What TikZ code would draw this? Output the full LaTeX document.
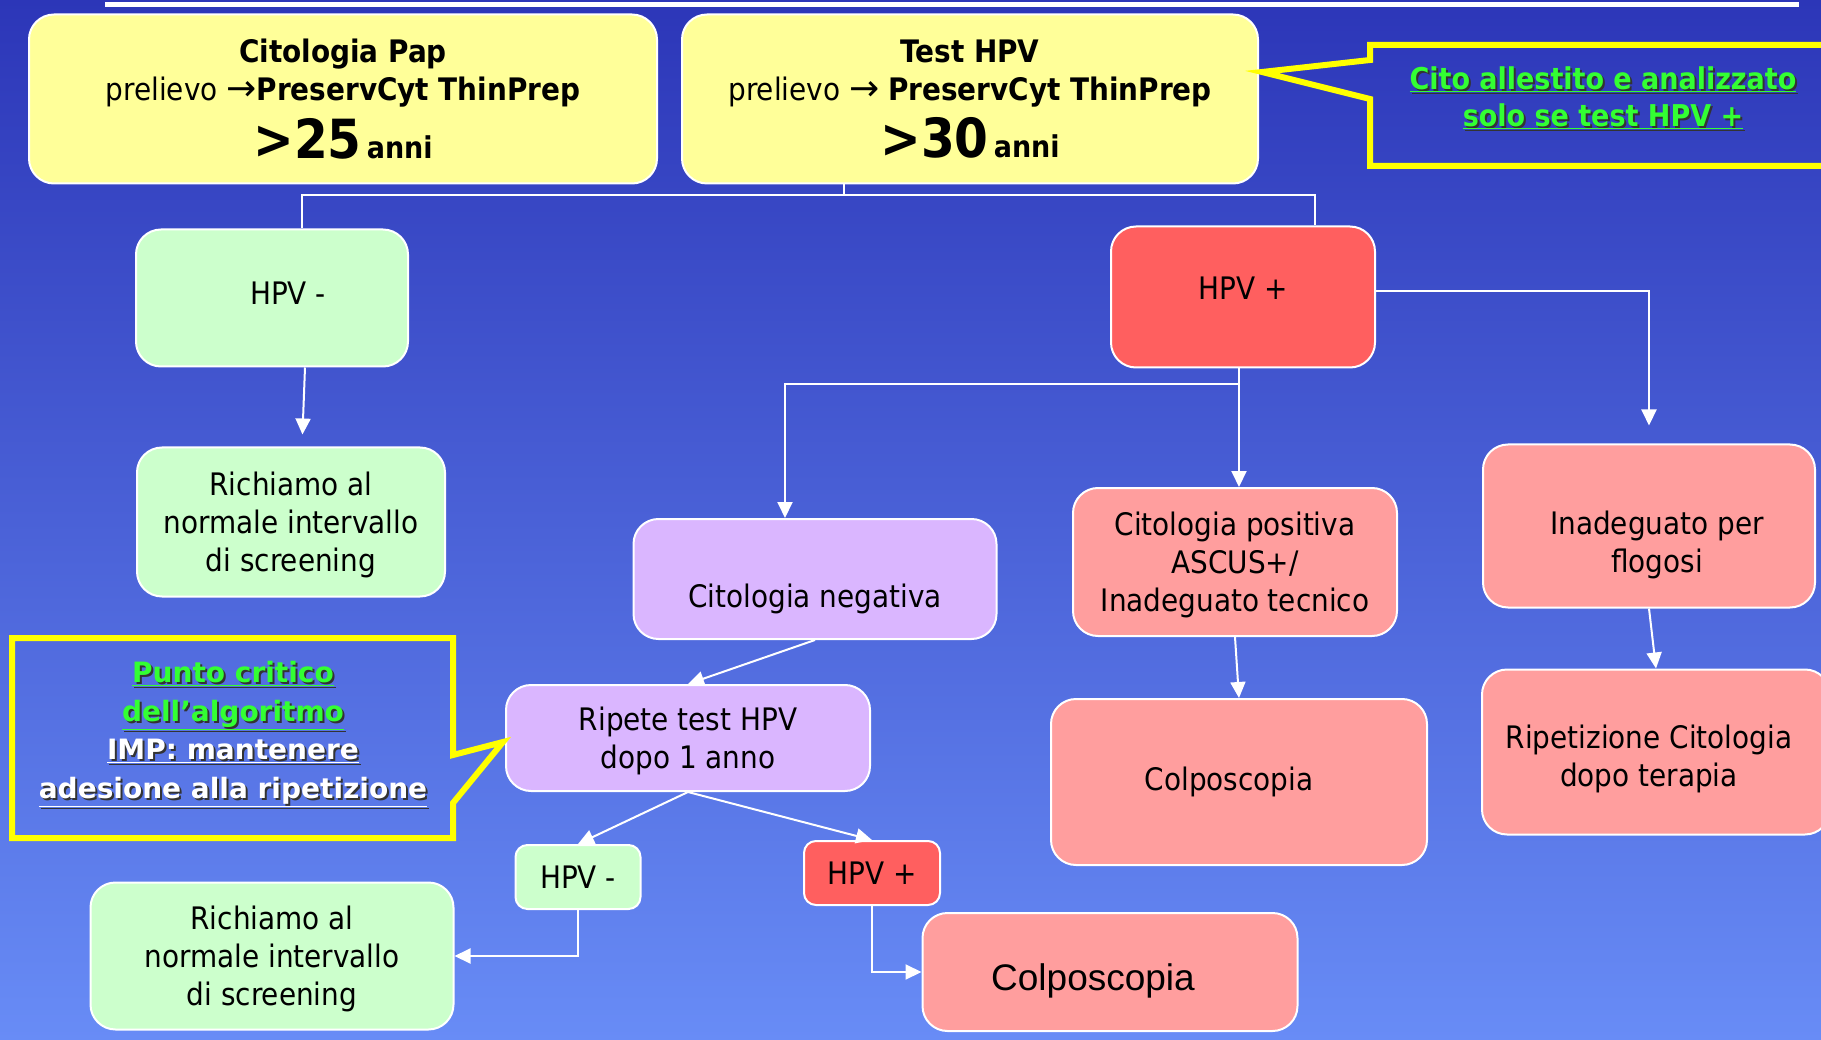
\documentclass[tikz,border=0pt]{standalone}
\usepackage{fontspec}
\setmainfont{DejaVu Sans Condensed}
\newfontfamily\verdanalike{DejaVu Sans}
\newfontfamily\arialfont{Liberation Sans}
\usetikzlibrary{arrows.meta,calc}

\definecolor{bgtop}{RGB}{44,54,184}
\definecolor{bgbottom}{RGB}{104,140,246}
\definecolor{yellowbox}{RGB}{255,255,153}
\definecolor{greenbox}{RGB}{204,255,204}
\definecolor{redbox}{RGB}{255,95,95}
\definecolor{pinkbox}{RGB}{255,158,158}
\definecolor{purplebox}{RGB}{218,182,255}
\definecolor{noteyellow}{RGB}{255,255,0}
\definecolor{notegreen}{RGB}{51,255,51}

\newcommand\shadowed[2]{\rlap{\kern2pt\raisebox{-2pt}{\color{black!80}\underline{#2}}}{\color{#1}\underline{#2}}}
\newcommand\bigarrow{{\verdanalike\fontsize{36}{38}\selectfont →}}

\tikzset{
  box/.style={draw=white, line width=2pt, rounded corners=25pt, align=center,
    text=black, inner sep=0pt, font=\fontsize{31}{38}\selectfont},
  smallbox/.style={box, rounded corners=12pt},
  conn/.style={draw=white, line width=2pt},
  arr/.style={conn, -{Triangle[length=16pt,width=15pt]}},
  callout/.style={draw=noteyellow, line width=6pt, line join=miter},
}

\begin{document}
\begin{tikzpicture}[x=1pt,y=-1pt]
  \useasboundingbox (0,0) rectangle (1821,1040);
  \clip (0,0) rectangle (1821,1040);
  \shade[top color=bgtop, bottom color=bgbottom] (0,0) rectangle (1821,1040);
  \draw[white, line width=5pt] (105,4.5) -- (1799,4.5);

  % screening entry points
  \node[box, fill=yellowbox, minimum width=628pt, minimum height=169pt] (pap) at (343,99)
    {\textbf{Citologia Pap}\\ prelievo \bigarrow\textbf{PreservCyt ThinPrep}\\[10pt]
     {\fontsize{54}{50}\selectfont\bfseries >25}\,{\fontsize{30}{38}\selectfont\bfseries anni}};
  \node[box, fill=yellowbox, minimum width=576pt, minimum height=169pt] (testhpv) at (970,99)
    {\textbf{Test HPV}\\ prelievo \bigarrow\ \textbf{PreservCyt ThinPrep}\\[10pt]
     {\fontsize{54}{50}\selectfont\bfseries >30}\,{\fontsize{30}{38}\selectfont\bfseries anni}};

  % first result
  \node[box, fill=greenbox, minimum width=272pt, minimum height=137pt, text depth=10pt] (hpvneg)
    at (272,298) {\kern32pt HPV -};
  \node[box, fill=greenbox, minimum width=308pt, minimum height=149pt, text depth=0pt] (richiamoA)
    at (291,522) {Richiamo al\\ normale intervallo\\ di screening};
  \node[box, fill=redbox, minimum width=264pt, minimum height=141pt, text depth=18pt] (hpvpos)
    at (1243,297) {HPV +};

  % cytology after HPV +
  \node[box, fill=purplebox, minimum width=363pt, minimum height=120pt, text height=64pt,
    text depth=7pt] (citneg) at (815,579) {Citologia negativa};
  \node[box, fill=pinkbox, minimum width=324pt, minimum height=148pt, text depth=0pt] (citpos)
    at (1235,562) {Citologia positiva\\ ASCUS+/\\ Inadeguato tecnico};
  \node[box, fill=pinkbox, minimum width=332pt, minimum height=163pt, text height=100pt,
    text depth=7pt] (inad) at (1649,526) {\kern16pt Inadeguato per\\ \kern16pt flogosi};
  \node[box, fill=pinkbox, minimum width=376pt, minimum height=166pt] (colpoA)
    at (1239,782) {\kern-20pt Colposcopia};
  \node[box, fill=pinkbox, minimum width=348pt, minimum height=165pt, text height=76pt,
    text depth=7pt] (ripet) at (1656,752) {\kern-14pt Ripetizione Citologia\\ \kern-14pt dopo terapia};

  % repeat after one year
  \node[box, fill=purplebox, minimum width=364pt, minimum height=106pt, text depth=0pt] (ripete)
    at (688,738) {Ripete test HPV\\ dopo 1 anno};
  \node[smallbox, fill=greenbox, minimum width=125pt, minimum height=64pt] (hpvnegB) at (578,877) {HPV -};
  \node[smallbox, fill=redbox, minimum width=136pt, minimum height=64pt] (hpvposB) at (872,873) {HPV +};
  \node[box, fill=greenbox, minimum width=363pt, minimum height=147pt, text depth=0pt] (richiamoB)
    at (272,956) {Richiamo al\\ normale intervallo\\ di screening};
  \node[box, fill=pinkbox, minimum width=375pt, minimum height=118pt, text height=45pt, text depth=8pt,
    font=\arialfont\fontsize{37}{44}\selectfont] (colpoB) at (1110,972) {\kern-34pt Colposcopia};

  % connectors
  \coordinate (fork) at (844,195);
  \draw[conn] (fork |- testhpv.south) -- (fork) -| ($(hpvneg.north)+(30,0)$);
  \draw[conn] (fork) -| ($(hpvpos.north)+(72,0)$);
  \draw[arr, shorten >=12pt] ($(hpvneg.south)+(33,0)$) -- ($(richiamoA.north)+(11,0)$);
  \draw[arr] ($(hpvpos.south)+(-4,0)$) -- ++(0,16) -| ($(citneg.north)+(-30,0)$);
  \draw[arr] ($(hpvpos.south)+(-4,0)$) -- ($(hpvpos.south |- citpos.north)+(-4,0)$);
  \draw[arr, shorten >=18pt] ($(hpvpos.east)+(0,-6)$) -| (inad.north);
  \draw[arr] (citneg.south) -- (ripete.north);
  \draw[arr] (citpos.south) -- (colpoA.north);
  \draw[arr] (inad.south) -- (ripet.north);
  \draw[arr] (ripete.south) -- (hpvnegB.north);
  \draw[arr] (ripete.south) -- (hpvposB.north);
  \draw[arr] (hpvnegB.south) |- (richiamoB.east);
  \draw[arr] (hpvposB.south) |- (colpoB.west);

  % callouts
  \draw[callout] (1370,45) -- (1840,45) -- (1840,166) -- (1370,166) -- (1370,99)
    -- (1262,72) -- (1370,60) -- cycle;
  \node[font=\bfseries\fontsize{30}{37}\selectfont, align=center] (citonote) at (1603,99)
    {\shadowed{notegreen}{Cito allestito e analizzato}\\ \shadowed{notegreen}{solo se test HPV +}};
  \draw[callout] (12,638) -- (453,638) -- (453,755) -- (503,742) -- (453,803)
    -- (453,838) -- (12,838) -- cycle;
  \node[font=\verdanalike\bfseries\fontsize{28}{38.5}\selectfont, align=center] (puntonote) at (233,735)
    {\shadowed{notegreen}{Punto critico}\\ \shadowed{notegreen}{dell’algoritmo}\\
     \shadowed{white}{IMP: mantenere}\\ \shadowed{white}{adesione alla ripetizione}};
\end{tikzpicture}
\end{document}
